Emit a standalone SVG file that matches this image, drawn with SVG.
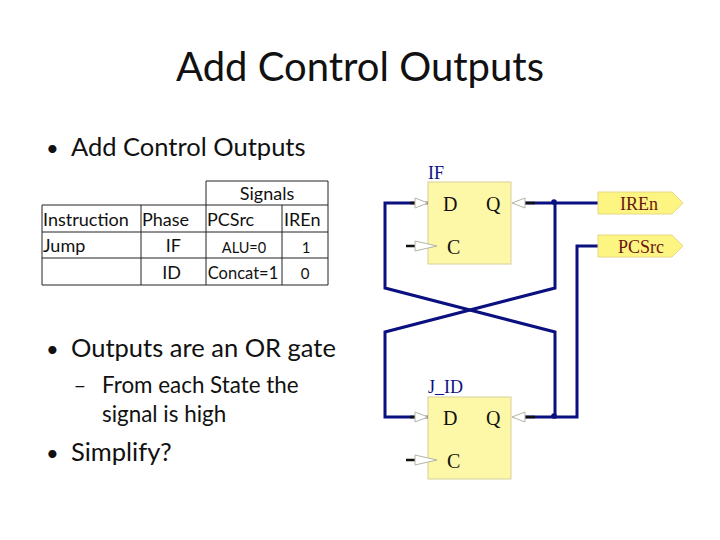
<svg xmlns="http://www.w3.org/2000/svg" width="720" height="540" viewBox="0 0 720 540">
<style>
.s{font-family:Lato,"Liberation Sans",sans-serif;fill:#111}
.t{font-size:18px}
.b{font-size:25.5px}
.grid{stroke:#222;stroke-width:1;fill:none}
.box{fill:#fdf8a8;stroke:#d8cf9a;stroke-width:1}
.tag{fill:#fdf582;stroke:#e6d884;stroke-width:1}
.wire{fill:none;stroke:#0b1080;stroke-width:3}
.stub{fill:none;stroke:#111;stroke-width:2.5}
.pin{fill:#fff;stroke:#b5b5a5;stroke-width:1}
.lbl{font-family:"Liberation Serif",serif;font-size:20px;fill:#111}
.nm{font-family:"Liberation Serif",serif;font-size:18px;fill:#0b1080}
.tg{font-family:"Liberation Serif",serif;font-size:18px;fill:#6b1510}
</style>
<rect width="720" height="540" fill="#fff"/>
<text class="s" x="360" y="81" font-size="40" text-anchor="middle">Add Control Outputs</text>
<text class="s" x="46" y="156" font-size="22">•</text>
<text class="s b" x="71" y="156">Add Control Outputs</text>
<text class="s" x="46" y="357" font-size="22">•</text>
<text class="s b" x="71" y="357">Outputs are an OR gate</text>
<text class="s" x="80" y="393" font-size="22" text-anchor="middle">–</text>
<text class="s" x="102" y="393" font-size="22.4">From each State the</text>
<text class="s" x="102" y="422" font-size="22.4">signal is high</text>
<text class="s" x="46" y="461" font-size="22">•</text>
<text class="s b" x="71" y="461">Simplify?</text>
<g id="table">
<path class="grid" d="M206 181H328V285H42V205H328M42 232H328M42 258H328M141 205V285M206 181V285M282 205V285"/>
<text class="s t" x="267" y="200" text-anchor="middle">Signals</text>
<text class="s t" x="43" y="226">Instruction</text>
<text class="s t" x="142" y="226">Phase</text>
<text class="s t" x="207" y="226">PCSrc</text>
<text class="s t" x="284" y="226">IREn</text>
<text class="s t" x="43" y="252">Jump</text>
<text class="s t" x="181" y="252" text-anchor="end">IF</text>
<text class="s" x="244" y="253" font-size="14.5" text-anchor="middle">ALU=0</text>
<text class="s" x="306" y="253" font-size="15" text-anchor="middle">1</text>
<text class="s t" x="181" y="279" text-anchor="end">ID</text>
<text class="s" x="243" y="279" font-size="16.5" text-anchor="middle">Concat=1</text>
<text class="s" x="305" y="279" font-size="15" text-anchor="middle">0</text>
</g>
<g id="connectors">
<path class="wire" d="M415 203H385V288L555 332V417H525"/>
<path class="wire" d="M525 203H598M555 203V288L385 332V417H415"/>
<path class="wire" d="M555 417H577V246H598"/>
<circle cx="554" cy="202" r="2.8" fill="#0b1080"/>
<circle cx="554" cy="416" r="2.8" fill="#0b1080"/>
</g>
<g id="node-if">
<rect class="box" x="428" y="182" width="83" height="82"/>
<path class="stub" d="M410 203H416M425 203H428M406 246H415M425 246H428M525 203H535"/>
<path class="pin" d="M415 198L428 203L415 208ZM415 241L437 246L415 251ZM525 198L512 203L525 208Z"/>
<text class="lbl" x="443" y="211">D</text>
<text class="lbl" x="486" y="211">Q</text>
<text class="lbl" x="447" y="254">C</text>
<text class="nm" x="428" y="179">IF</text>
</g>
<g id="node-jid">
<rect class="box" x="428" y="397" width="83" height="82"/>
<path class="stub" d="M410 417H416M425 417H428M406 460H415M425 460H428M525 417H535"/>
<path class="pin" d="M415 412L428 417L415 422ZM415 455L437 460L415 465ZM525 412L512 417L525 422Z"/>
<text class="lbl" x="443" y="425">D</text>
<text class="lbl" x="486" y="425">Q</text>
<text class="lbl" x="447" y="468">C</text>
<text class="nm" x="428" y="393">J_ID</text>
</g>
<g id="tag-iren">
<path class="tag" d="M598 192H672L683 203L672 214H598Z"/>
<text class="tg" x="639" y="210" text-anchor="middle">IREn</text>
</g>
<g id="tag-pcsrc">
<path class="tag" d="M598 235H672L683 246L672 257H598Z"/>
<text class="tg" x="641" y="253" text-anchor="middle" font-size="17.5">PCSrc</text>
</g>
</svg>
